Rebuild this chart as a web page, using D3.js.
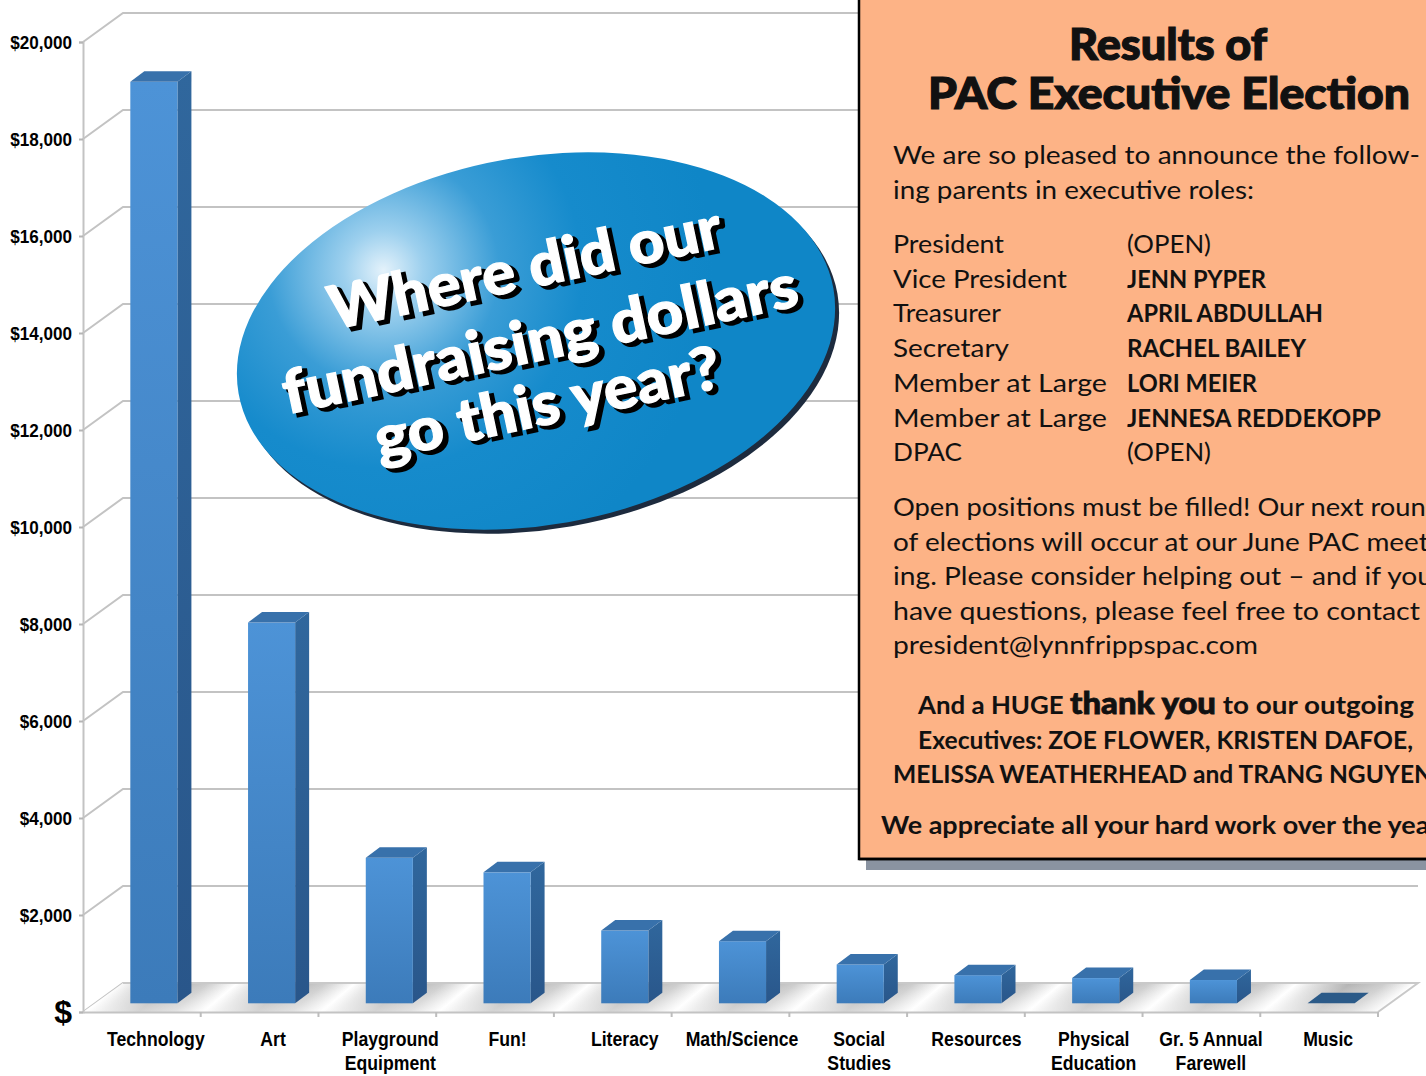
<!DOCTYPE html>
<html>
<head>
<meta charset="utf-8">
<script src="https://cdn.jsdelivr.net/npm/d3@7"></script>
<style>
  body { margin: 0; background: #fff; }
  svg { display: block; }
</style>
</head>
<body>
<div id="chart"></div>
<script>
let w = 1426;
let h = 1076;

// chart data
const categories = ['Technology', 'Art', 'Playground|Equipment', 'Fun!', 'Literacy', 'Math/Science',
    'Social|Studies', 'Resources', 'Physical|Education', 'Gr. 5 Annual|Farewell', 'Music'];
const amounts = [19000, 7850, 3000, 2700, 1500, 1280, 800, 580, 520, 480, 0];
const yTicks = [0, 2000, 4000, 6000, 8000, 10000, 12000, 14000, 16000, 18000, 20000];

// text of the overlay + notice panel
const bubbleLines = ['Where did our', 'fundraising dollars', 'go this year?'];
const roles = ['President', 'Vice President', 'Treasurer', 'Secretary', 'Member at Large', 'Member at Large', 'DPAC'];
const names = ['(OPEN)', 'JENN PYPER', 'APRIL ABDULLAH', 'RACHEL BAILEY', 'LORI MEIER', 'JENNESA REDDEKOPP', '(OPEN)'];

const depth = {dx: 40, dy: -29};
const narrow = "'Liberation Sans Narrow', 'Arial Narrow', 'Liberation Sans', Arial, sans-serif";
const chunky = "'Lato', 'DejaVu Sans', sans-serif";
const gothic = "'Century Gothic', 'Lato', 'Open Sans', sans-serif";

let svg = d3.select('#chart')
    .append('svg')
    .attr('width', w)
    .attr('height', h);

let defs = svg.append('defs');

// squeeze a text to a narrow look (no narrow font available)
const squeeze = (sel, k) => {
    sel.each(function() {
        let len = this.getComputedTextLength();
        d3.select(this).attr('textLength', len * k).attr('lengthAdjust', 'spacingAndGlyphs');
    });
};

let xScale = d3.scaleBand()
    .domain(categories)
    .range([83, 1378])
    .paddingInner(0.6)
    .paddingOuter(0.3);

let yScale = d3.scaleLinear()
    .domain([0, 20000])
    .range([1012, 42]);

// floor stripes
let floorGrad = defs.append('linearGradient')
    .attr('id', 'floorGrad')
    .attr('gradientUnits', 'userSpaceOnUse')
    .attr('x1', xScale(categories[0]) + 20).attr('y1', 0)
    .attr('x2', xScale(categories[0]) + 20 + xScale.step()).attr('y2', 0)
    .attr('spreadMethod', 'repeat')
    .attr('gradientTransform', 'translate(0,1012) skewX(-50) translate(0,-1012)');
[[0, '#b3b3b3'], [0.3, '#cccccc'], [0.55, '#ffffff'], [0.7, '#e2e2e2'], [1, '#b3b3b3']].forEach(s => {
    floorGrad.append('stop').attr('offset', s[0]).attr('stop-color', s[1]);
});
let floorShade = defs.append('linearGradient')
    .attr('id', 'floorShade').attr('x1', 0).attr('y1', 0).attr('x2', 0).attr('y2', 1);
floorShade.append('stop').attr('offset', 0).attr('stop-color', '#fff').attr('stop-opacity', 0);
floorShade.append('stop').attr('offset', 1).attr('stop-color', '#fff').attr('stop-opacity', 0.45);

let frontGrad = defs.append('linearGradient')
    .attr('id', 'frontGrad').attr('x1', 0).attr('y1', 0).attr('x2', 0).attr('y2', 1);
frontGrad.append('stop').attr('offset', 0).attr('stop-color', '#4d93d7');
frontGrad.append('stop').attr('offset', 1).attr('stop-color', '#3c7bba');
let sideGrad = defs.append('linearGradient')
    .attr('id', 'sideGrad').attr('x1', 0).attr('y1', 0).attr('x2', 0).attr('y2', 1);
sideGrad.append('stop').attr('offset', 0).attr('stop-color', '#30679d');
sideGrad.append('stop').attr('offset', 1).attr('stop-color', '#29568a');

// back wall gridlines
yTicks.forEach(t => {
    let y0 = yScale(t);
    svg.append('polyline')
        .attr('points', [[83, y0], [83 + depth.dx, y0 + depth.dy], [1378 + depth.dx, y0 + depth.dy]].join(' '))
        .attr('fill', 'none')
        .attr('stroke', '#c3c3c3')
        .attr('stroke-width', 2);
});

// floor
let floorPts = [[83, 1012], [1378, 1012], [1378 + depth.dx, 1012 + depth.dy], [83 + depth.dx, 1012 + depth.dy]];
svg.append('polygon').attr('points', floorPts.join(' ')).attr('fill', 'url(#floorGrad)');
svg.append('polygon').attr('points', floorPts.join(' ')).attr('fill', 'url(#floorShade)');
svg.append('polyline')
    .attr('points', [[83 + depth.dx, 983], [1378 + depth.dx, 983], [1378, 1012]].join(' '))
    .attr('fill', 'none').attr('stroke', '#c9c9c9').attr('stroke-width', 2);

// front axes
let yAxis = d3.axisLeft(yScale)
    .tickValues(yTicks)
    .tickSize(4)
    .tickFormat(d => d === 0 ? '$' : '$' + d3.format(',')(d));
let yG = svg.append('g')
    .attr('transform', 'translate(83,0)')
    .call(yAxis);
yG.select('.domain').attr('stroke', '#c3c3c3').attr('stroke-width', 2);
yG.selectAll('.tick line').attr('stroke', '#b5b5b5').attr('stroke-width', 2);
yG.selectAll('.tick text')
    .attr('x', -11)
    .attr('fill', '#000')
    .style('font-family', narrow)
    .style('font-weight', 'bold')
    .style('font-size', d => d === 0 ? '32px' : '19px');
squeeze(yG.selectAll('.tick text').filter(d => d > 0), 0.9);

let xAxis = d3.axisBottom(xScale).tickSize(0).tickFormat('');
let xG = svg.append('g')
    .attr('transform', 'translate(0,1012)')
    .call(xAxis);
xG.select('.domain').attr('stroke', '#c3c3c3').attr('stroke-width', 2);
xG.selectAll('.tick').remove();
d3.range(1, categories.length + 1).forEach(i => {
    let xb = 83 + i * xScale.step();
    svg.append('line')
        .attr('x1', xb).attr('x2', xb)
        .attr('y1', 1012).attr('y2', 1017)
        .attr('stroke', '#bdbdbd').attr('stroke-width', 2);
});

// category labels
categories.forEach((c, i) => {
    let cx = xScale(c) + xScale.bandwidth() / 2 + 14 - i * 0.5;
    let t = svg.append('text')
        .attr('x', cx)
        .attr('y', 1046)
        .attr('text-anchor', 'middle')
        .style('font-family', narrow)
        .style('font-weight', 'bold')
        .style('font-size', '21px');
    c.split('|').forEach((part, j) => {
        t.append('tspan').attr('x', cx).attr('dy', j === 0 ? 0 : 24).text(part);
    });
    squeeze(t.selectAll('tspan'), 0.84);
});

// bars
let barOff = {dx: 12, dy: -8.7};
let barDepth = {dx: 14, dy: -10.5};
categories.forEach((c, i) => {
    let x0 = xScale(c) + barOff.dx;
    let x1 = x0 + xScale.bandwidth();
    let yb = yScale(0) + barOff.dy;
    let yt = yScale(amounts[i]) + barOff.dy;
    let g = svg.append('g');
    if (amounts[i] > 0) {
        g.append('polygon')
            .attr('points', [[x1, yb], [x1 + barDepth.dx, yb + barDepth.dy], [x1 + barDepth.dx, yt + barDepth.dy], [x1, yt]].join(' '))
            .attr('fill', 'url(#sideGrad)');
        g.append('rect')
            .attr('x', x0).attr('y', yt)
            .attr('width', x1 - x0).attr('height', yb - yt)
            .attr('fill', 'url(#frontGrad)');
    }
    g.append('polygon')
        .attr('points', [[x0, yt], [x1, yt], [x1 + barDepth.dx, yt + barDepth.dy], [x0 + barDepth.dx, yt + barDepth.dy]].join(' '))
        .attr('fill', amounts[i] > 0 ? '#3871ab' : '#2b5a88');
});

// faint blurred shadow segment seen under the $4,000 line
defs.append('filter').attr('id', 'blur').append('feGaussianBlur').attr('stdDeviation', 1.5);
svg.append('line')
    .attr('x1', 338).attr('x2', 432)
    .attr('y1', yScale(4000) + depth.dy + 1).attr('y2', yScale(4000) + depth.dy + 1)
    .attr('stroke', '#8a8a8a').attr('stroke-width', 2.5).attr('filter', 'url(#blur)');

// blue bubble
let bub = defs.append('radialGradient')
    .attr('id', 'bubGrad')
    .attr('gradientUnits', 'userSpaceOnUse')
    .attr('cx', 398).attr('cy', 245).attr('r', 330);
[[0, '#e4f2fb'], [0.12, '#9dd0ee'], [0.35, '#3a9dd6'], [0.6, '#168bcc'], [1, '#0f86c7']].forEach(s => {
    bub.append('stop').attr('offset', s[0]).attr('stop-color', s[1]);
});
let bubble = svg.append('g');
bubble.append('ellipse')
    .attr('cx', 540).attr('cy', 346).attr('rx', 302).attr('ry', 183)
    .attr('transform', 'rotate(-10,540,346)')
    .attr('fill', '#1d2b3e');
bubble.append('ellipse')
    .attr('cx', 536).attr('cy', 341).attr('rx', 302).attr('ry', 184)
    .attr('transform', 'rotate(-10,536,341)')
    .attr('fill', 'url(#bubGrad)');

let bubbleText = bubble.append('g').attr('transform', 'rotate(-12,540,335)');
let bubblePos = [[539, 287, 400], [539, 360, 525], [533, 424, 352]];
bubbleLines.forEach((line, i) => {
    let p = bubblePos[i];
    [[4, 4, '#000'], [0, 0, '#fff']].forEach(s => {
        bubbleText.append('text')
            .attr('x', p[0] + s[0]).attr('y', p[1] + s[1])
            .attr('text-anchor', 'middle')
            .attr('textLength', p[2])
            .attr('lengthAdjust', 'spacingAndGlyphs')
            .attr('fill', s[2])
            .attr('stroke', s[2]).attr('stroke-width', s[0] ? 3 : 1.2)
            .style('font-family', chunky)
            .style('font-weight', 900)
            .style('font-size', '60px')
            .text(line);
    });
});

// notice panel
svg.append('rect')
    .attr('x', 866).attr('y', 859).attr('width', 570).attr('height', 11)
    .attr('fill', '#8a93a1');
svg.append('rect')
    .attr('x', 859).attr('y', -10).attr('width', 600).attr('height', 869)
    .attr('fill', '#fdb386')
    .attr('stroke', '#000').attr('stroke-width', 2.5);

const addText = (x, y, txt, opts) => {
    let t = svg.append('text')
        .attr('x', x).attr('y', y)
        .attr('text-anchor', opts.anchor || 'start')
        .attr('fill', '#111')
        .style('font-family', opts.family || gothic)
        .style('font-weight', opts.weight || 'normal')
        .style('font-size', (opts.size || 25) + 'px')
        .text(txt);
    if (opts.len) t.attr('textLength', opts.len).attr('lengthAdjust', 'spacingAndGlyphs');
    if (opts.stroke) t.attr('stroke', '#111').attr('stroke-width', opts.stroke);
    return t;
};

addText(1168, 60, 'Results of', {anchor: 'middle', family: chunky, weight: 900, size: 44, len: 198, stroke: 1.2});
addText(1169, 109, 'PAC Executive Election', {anchor: 'middle', family: chunky, weight: 900, size: 44, len: 482, stroke: 1.2});

addText(893, 164, 'We are so pleased to announce the follow-', {len: 527});
addText(893, 199, 'ing parents in executive roles:', {len: 361});

let roleLen = [111, 174, 108, 116, 214, 214, 69];
let nameLen = [84, 139, 196, 179, 130, 254, 84];
roles.forEach((r, i) => {
    let y = 253 + i * 34.7;
    addText(893, y, r, {len: roleLen[i]});
    addText(1127, y, names[i], {len: nameLen[i], weight: names[i].startsWith('(') ? 'normal' : 'bold'});
});

let para = ['Open positions must be filled! Our next round',
    'of elections will occur at our June PAC meet-',
    'ing. Please consider helping out \u2013 and if you',
    'have questions, please feel free to contact',
    'president@lynnfrippspac.com'];
let paraLen = [548, 546, 540, 527, 365];
para.forEach((p, i) => addText(893, 516 + i * 34.5, p, {len: paraLen[i]}));

let thanks = svg.append('text')
    .attr('x', 918).attr('y', 714)
    .attr('fill', '#111')
    .style('font-family', gothic)
    .style('font-weight', 'bold')
    .style('font-size', '25px');
thanks.append('tspan').attr('textLength', 152).attr('lengthAdjust', 'spacingAndGlyphs').text('And a HUGE ');
thanks.append('tspan')
    .style('font-family', chunky).style('font-weight', 900).style('font-size', '31px')
    .attr('stroke', '#111').attr('stroke-width', 0.8)
    .attr('textLength', 146).attr('lengthAdjust', 'spacingAndGlyphs')
    .text('thank you');
thanks.append('tspan').attr('textLength', 198).attr('lengthAdjust', 'spacingAndGlyphs').text(' to our outgoing');

addText(918, 749, 'Executives: ZOE FLOWER, KRISTEN DAFOE,', {weight: 'bold', len: 495});
addText(893, 783, 'MELISSA WEATHERHEAD and TRANG NGUYEN', {weight: 'bold', len: 540});
addText(881, 834, 'We appreciate all your hard work over the year!', {weight: 'bold', len: 566});

svg.append('line')
    .attr('x1', 859).attr('x2', 1430).attr('y1', 859).attr('y2', 859)
    .attr('stroke', '#000').attr('stroke-width', 2.5);
</script>
</body>
</html>
